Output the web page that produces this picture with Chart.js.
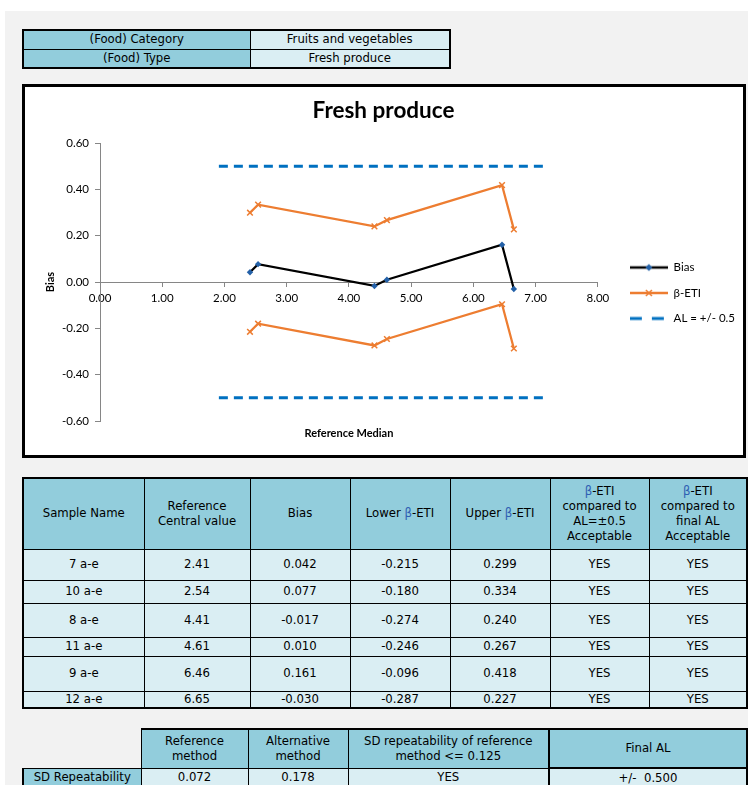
<!DOCTYPE html>
<html>
<head>
<meta charset="utf-8">
<script src="https://cdn.jsdelivr.net/npm/chart.js@4.4.1/dist/chart.umd.min.js"></script>
<style>
html, body { margin: 0; padding: 0; width: 748px; height: 785px; overflow: hidden; background: #fff; }
#sheet { position: absolute; left: 5px; top: 11px; width: 743px; height: 774px; background: #f2f2f2; }
table { position: absolute; border-collapse: collapse; table-layout: fixed; border: 2px solid #000;
        font-family: "Liberation Sans Narrow", "DejaVu Sans Condensed", sans-serif; font-size: 13px; color: #000; }
td { border: 1px solid #000; text-align: center; vertical-align: middle; padding: 0; line-height: 1.15; }
.hd { background: #92cddc; }
.dt { background: #daeef3; }
.beta { color: #2f5fb3; }
#chartBox { position: absolute; left: 22px; top: 84px; width: 718px; height: 368px; border: 3px solid #000; background: #fff; }
#chartBox canvas { display: block; }
</style>
</head>
<body>
<div id="sheet"></div>

<table id="infoTable" style="left:22px; top:29px; width:427px;">
  <colgroup><col style="width:227px"><col style="width:200px"></colgroup>
  <tr style="height:19px"><td class="hd">(Food) Category</td><td class="dt">Fruits and vegetables</td></tr>
  <tr style="height:19px"><td class="hd">(Food) Type</td><td class="dt">Fresh produce</td></tr>
</table>

<div id="chartBox"><canvas id="biasChart" width="718" height="368"></canvas></div>

<table id="sampleTable" style="left:22px; top:477px; width:724px;">
  <colgroup>
    <col style="width:121px"><col style="width:106px"><col style="width:100px"><col style="width:100px">
    <col style="width:100px"><col style="width:99px"><col style="width:98px">
  </colgroup>
  <tr style="height:71px">
    <td class="hd">Sample Name</td>
    <td class="hd">Reference<br>Central value</td>
    <td class="hd">Bias</td>
    <td class="hd">Lower <span class="beta">β</span>-ETI</td>
    <td class="hd">Upper <span class="beta">β</span>-ETI</td>
    <td class="hd"><span class="beta">β</span>-ETI<br>compared to<br>AL=±0.5<br>Acceptable</td>
    <td class="hd"><span class="beta">β</span>-ETI<br>compared to<br>final AL<br>Acceptable</td>
  </tr>
</table>

<table id="sdTable" style="left:22px; top:728px; width:724px;">
  <colgroup>
    <col style="width:118px"><col style="width:107px"><col style="width:100px"><col style="width:201px"><col style="width:198px">
  </colgroup>
  <tr style="height:39px">
    <td style="background:#f2f2f2; border-top:hidden; border-left:hidden;"></td>
    <td class="hd">Reference<br>method</td>
    <td class="hd">Alternative<br>method</td>
    <td class="hd">SD repeatability of reference<br>method &lt;= 0.125</td>
    <td class="hd" style="border:2px solid #000;">Final AL</td>
  </tr>
  <tr style="height:20px">
    <td class="hd">SD Repeatability</td>
    <td class="dt">0.072</td>
    <td class="dt">0.178</td>
    <td class="dt">YES</td>
    <td class="dt" style="border:2px solid #000;">+/-&nbsp; 0.500</td>
  </tr>
</table>

<script>
const sampleNames = ['7 a-e', '10 a-e', '8 a-e', '11 a-e', '9 a-e', '12 a-e'];
const refMedian = [2.41, 2.54, 4.41, 4.61, 6.46, 6.65];
const biasValues = [0.042, 0.077, -0.017, 0.010, 0.161, -0.030];
const lowerEti = [-0.215, -0.180, -0.274, -0.246, -0.096, -0.287];
const upperEti = [0.299, 0.334, 0.240, 0.267, 0.418, 0.227];
const acceptAL05 = ['YES', 'YES', 'YES', 'YES', 'YES', 'YES'];
const acceptFinal = ['YES', 'YES', 'YES', 'YES', 'YES', 'YES'];
const alRange = [1.91, 7.15];
const alLimit = 0.5;
const xRange = [0, 8];
const yRange = [-0.6, 0.6];

// alturas de fila como en la hoja
const rowHeights = [31, 23, 34, 19, 35, 17];

const legendShift = { x: 18, y: 39 };

document.addEventListener('DOMContentLoaded', () => {
    // Tabla de muestras
    const table = document.getElementById('sampleTable');
    sampleNames.forEach((name, i) => {
        const tr = document.createElement('tr');
        tr.style.height = rowHeights[i] + 'px';
        const cells = [name, refMedian[i].toFixed(2), biasValues[i].toFixed(3),
            lowerEti[i].toFixed(3), upperEti[i].toFixed(3), acceptAL05[i], acceptFinal[i]];
        cells.forEach(txt => {
            const td = document.createElement('td');
            td.className = 'dt';
            td.textContent = txt;
            tr.appendChild(td);
        });
        table.appendChild(tr);
    });

    const pts = (xs, ys) => xs.map((x, i) => ({ x: x, y: ys[i] }));
    const fmt2 = v => (Math.abs(v) < 1e-9 ? 0 : v).toFixed(2);

    // Iconos de leyenda (línea + marcador, estilo Excel)
    function makeIcon(draw) {
        const c = document.createElement('canvas');
        c.width = 38; c.height = 12;
        draw(c.getContext('2d'));
        return c;
    }
    const iconBias = makeIcon(g => {
        g.strokeStyle = '#000'; g.lineWidth = 2.5;
        g.beginPath(); g.moveTo(0, 6); g.lineTo(38, 6); g.stroke();
        g.fillStyle = '#2461a8';
        g.beginPath(); g.moveTo(19, 2.5); g.lineTo(22.5, 6); g.lineTo(19, 9.5); g.lineTo(15.5, 6); g.closePath(); g.fill();
    });
    const iconEti = makeIcon(g => {
        g.strokeStyle = '#ed7d31'; g.lineWidth = 2.5;
        g.beginPath(); g.moveTo(0, 6); g.lineTo(38, 6); g.stroke();
        g.lineWidth = 1.5;
        g.beginPath(); g.moveTo(16, 3); g.lineTo(22, 9); g.moveTo(22, 3); g.lineTo(16, 9); g.stroke();
    });
    const iconAL = makeIcon(g => {
        g.strokeStyle = '#0070c0'; g.lineWidth = 3; g.setLineDash([12, 10]);
        g.beginPath(); g.moveTo(0, 6); g.lineTo(38, 6); g.stroke();
    });
    const legendIcons = [iconBias, iconEti, null, iconAL, null];

    const extras = {
        id: 'extras',
        afterLayout(chart) {
            const lg = chart.legend;
            lg.left += legendShift.x; lg.right += legendShift.x;
            lg.top += legendShift.y; lg.bottom += legendShift.y;
        },
        afterDraw(chart) {
            const { ctx, chartArea } = chart;
            ctx.save();
            ctx.font = 'bold 11px Lato';
            ctx.fillStyle = '#000';
            ctx.textAlign = 'center';
            ctx.textBaseline = 'middle';
            ctx.fillText('Reference Median', (chartArea.left + chartArea.right) / 2, chartArea.bottom + 12);
            ctx.restore();
        }
    };

    Chart.defaults.font.family = 'Lato';
    Chart.defaults.color = '#000';

    new Chart(document.getElementById('biasChart'), {
        type: 'scatter',
        data: {
            datasets: [
                {
                    label: 'Bias',
                    data: pts(refMedian, biasValues),
                    showLine: true,
                    borderColor: '#000',
                    borderWidth: 2.25,
                    pointStyle: 'rectRot',
                    pointRadius: 3.2,
                    pointBackgroundColor: '#2461a8',
                    pointBorderColor: '#2461a8',
                    pointBorderWidth: 0
                },
                {
                    label: 'β-ETI',
                    data: pts(refMedian, upperEti),
                    showLine: true,
                    borderColor: '#ed7d31',
                    borderWidth: 2.25,
                    pointStyle: 'crossRot',
                    pointRadius: 4,
                    pointBorderColor: '#ed7d31',
                    pointBorderWidth: 1.5
                },
                {
                    label: 'β-ETI lower',
                    hideInLegend: true,
                    data: pts(refMedian, lowerEti),
                    showLine: true,
                    borderColor: '#ed7d31',
                    borderWidth: 2.25,
                    pointStyle: 'crossRot',
                    pointRadius: 4,
                    pointBorderColor: '#ed7d31',
                    pointBorderWidth: 1.5
                },
                {
                    label: 'AL = +/- 0.5',
                    data: pts(alRange, [alLimit, alLimit]),
                    showLine: true,
                    borderColor: '#0070c0',
                    borderWidth: 3,
                    borderDash: [9, 6],
                    pointRadius: 0
                },
                {
                    label: 'AL lower',
                    hideInLegend: true,
                    data: pts(alRange, [-alLimit, -alLimit]),
                    showLine: true,
                    borderColor: '#0070c0',
                    borderWidth: 3,
                    borderDash: [9, 6],
                    pointRadius: 0
                }
            ]
        },
        options: {
            responsive: false,
            animation: false,
            devicePixelRatio: 1,
            layout: { padding: { left: 15, top: 0, right: 16, bottom: 34 } },
            plugins: {
                title: {
                    display: true,
                    text: 'Fresh produce',
                    font: { size: 22.5, weight: 'bold' },
                    color: '#000',
                    padding: { top: 10, bottom: 19 }
                },
                legend: {
                    position: 'right',
                    labels: {
                        usePointStyle: true,
                        pointStyleWidth: 38,
                        font: { size: 11.5 },
                        color: '#000',
                        padding: 14,
                        generateLabels(chart) {
                            const items = Chart.defaults.plugins.legend.labels.generateLabels(chart);
                            return items.map(it => Object.assign(it, { pointStyle: legendIcons[it.datasetIndex] }));
                        },
                        filter: (item, data) => !data.datasets[item.datasetIndex].hideInLegend
                    }
                },
                tooltip: { enabled: false }
            },
            scales: {
                x: {
                    type: 'linear',
                    position: { y: 0 },
                    min: xRange[0],
                    max: xRange[1],
                    ticks: { stepSize: 1, callback: fmt2, font: { size: 11.5 }, color: '#000', padding: 5 },
                    grid: { drawOnChartArea: false, tickLength: 4, color: '#868686' },
                    border: { color: '#868686', width: 1 }
                },
                y: {
                    min: yRange[0],
                    max: yRange[1],
                    ticks: { stepSize: 0.2, callback: fmt2, font: { size: 11.5 }, color: '#000', padding: 6 },
                    grid: { drawOnChartArea: false, tickLength: 5, color: '#868686' },
                    border: { color: '#868686', width: 1 },
                    title: { display: true, text: 'Bias', font: { size: 11, weight: 'bold' }, color: '#000', padding: 4 },
                    afterFit(scale) { scale.width = 60; }
                }
            }
        },
        plugins: [extras]
    });
});
</script>
</body>
</html>
